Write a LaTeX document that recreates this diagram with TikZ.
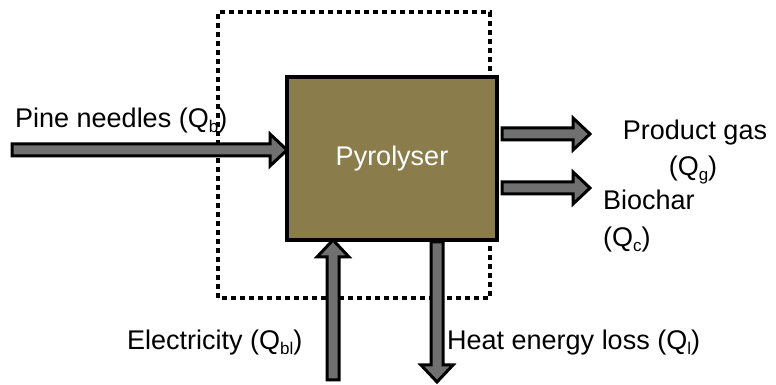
\documentclass[tikz,border=0pt]{standalone}
\usepackage{fontspec}
\setmainfont{Liberation Sans}
\definecolor{olivebox}{RGB}{139,125,75}
\definecolor{arrowgray}{RGB}{112,112,112}
\newcommand{\sbs}[1]{\raisebox{-0.3ex}{\fontsize{17}{20}\selectfont #1}}
\tikzset{
  x=1pt,y=1pt,
  lbl/.style={font=\fontsize{27}{31}\selectfont, inner sep=0pt},
  fat/.style={draw=black, fill=arrowgray, line width=3pt, line join=miter},
  pics/fatarrow/.style={code={
    \path[fat] (0,6) -- (#1-17,6) -- (#1-17,16) -- (#1,0) -- (#1-17,-16) -- (#1-17,-6) -- (0,-6) -- cycle;
  }},
  boundary/.style={draw=black, line width=4pt, dash pattern=on 5pt off 4pt},
  reactor/.style={draw=black, fill=olivebox, line width=3.5pt, minimum width=210pt, minimum height=163pt, inner sep=0pt}
}
\begin{document}
\begin{tikzpicture}
\useasboundingbox (0,0) rectangle (776,385);
% system boundary
\draw[boundary] (218,87) rectangle (490,373);
% pyrolyser
\node[reactor] (pyro) at (392,226.5) {};
\node[lbl, text=white] (pyrotext) at (pyro.center) {Pyrolyser};
% coordinates for flows
\coordinate (pinestart) at (12,235);
\coordinate (gasstart) at (502,251);
\coordinate (charstart) at (502,197);
\coordinate (elecstart) at (333,5);
\coordinate (heatstart) at (437,143);
% arrows
\pic at (pinestart) {fatarrow=275};
\pic at (gasstart) {fatarrow=88};
\pic at (charstart) {fatarrow=88};
\pic[rotate=90] at (elecstart) {fatarrow=140};
\pic[rotate=-90] at (heatstart) {fatarrow=140};
% labels
\node[lbl, anchor=base west] (pinelbl) at (15,257) {Pine needles (Q\sbs{b})};
\node[lbl, anchor=base] (gaslbl) at (695,245) {Product gas};
\node[lbl, anchor=base] (gasq) at (693,209) {(Q\sbs{g})};
\node[lbl, anchor=base west] (charlbl) at (603,175) {Biochar};
\node[lbl, anchor=base west] (charq) at (603,138) {(Q\sbs{c})};
\node[lbl, anchor=base west] (eleclbl) at (127,35) {Electricity (Q\sbs{bl})};
\node[lbl, anchor=base west] (heatlbl) at (447,35) {Heat energy loss (Q\sbs{l})};
\end{tikzpicture}
\end{document}
